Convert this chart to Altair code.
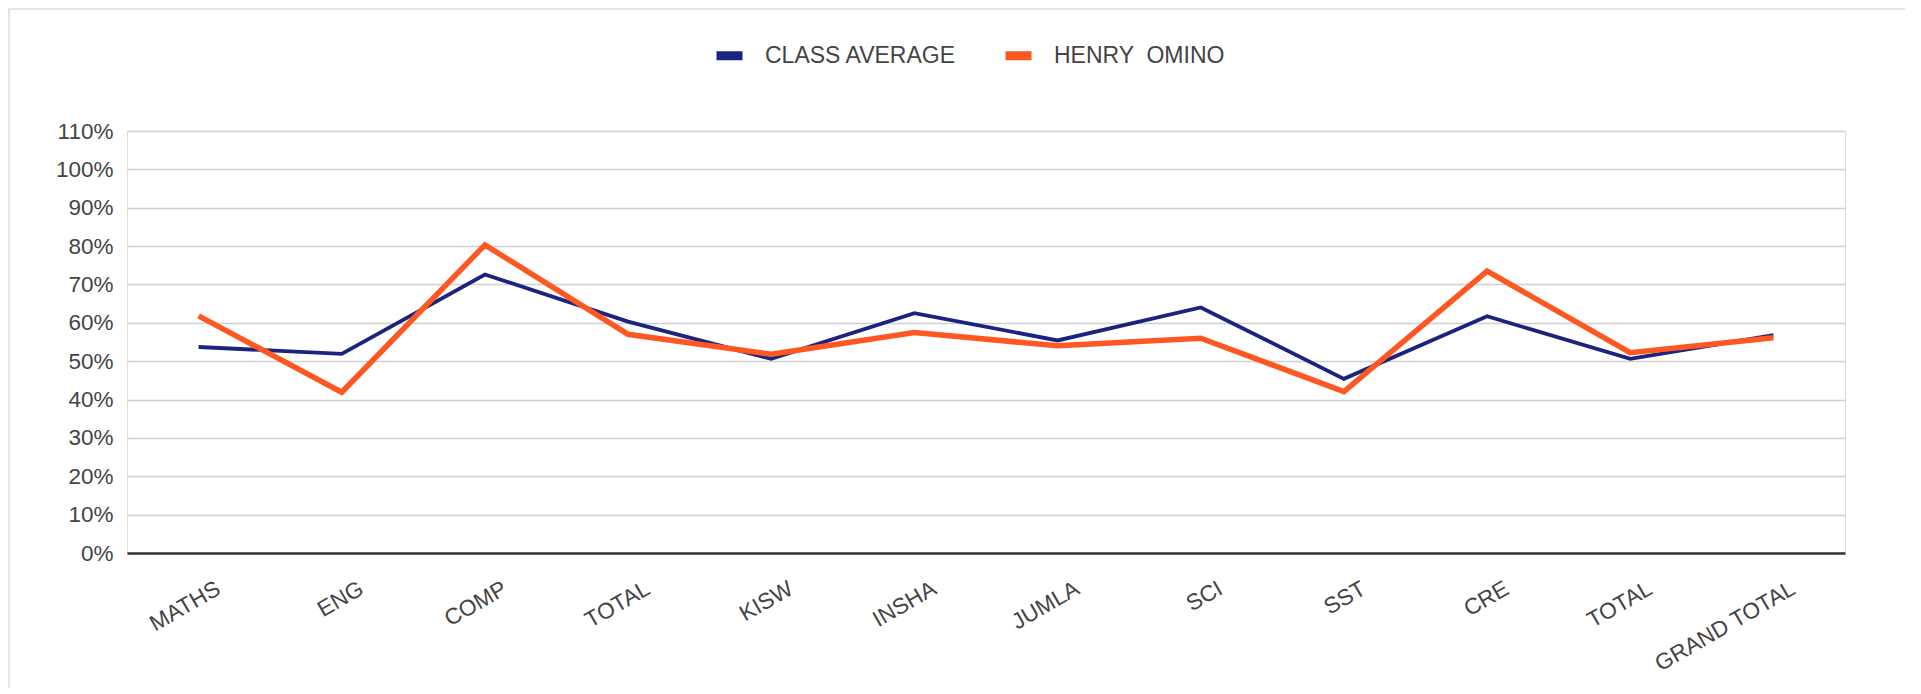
import altair as alt
import pandas as pd

# Category keys (two TOTAL columns -> suffix after "_" is hidden in labels)
subjects = ["MATHS", "ENG", "COMP", "TOTAL_1", "KISW", "INSHA", "JUMLA",
            "SCI", "SST", "CRE", "TOTAL_2", "GRAND TOTAL"]
class_average = [53.7, 51.9, 72.6, 60.3, 50.6, 62.5, 55.4, 64.0, 45.4, 61.7, 50.6, 56.8]
henry_omino = [61.8, 41.9, 80.3, 57.0, 51.8, 57.5, 54.0, 56.0, 42.1, 73.5, 52.2, 56.1]
series_names = ["CLASS AVERAGE", "HENRY \u00a0OMINO"]
series_colors = ["#1a237e", "#ff5722"]
y_ticks = list(range(0, 111, 10))

rows = []
for s, v in zip(subjects, class_average):
    rows.append({"subject": s, "series": series_names[0], "value": v})
for s, v in zip(subjects, henry_omino):
    rows.append({"subject": s, "series": series_names[1], "value": v})
df = pd.DataFrame(rows)

W, H = 1718, 422

x_enc = alt.X("subject:N", sort=subjects, title=None,
              scale=alt.Scale(paddingInner=0, paddingOuter=0.0),
              axis=alt.Axis(labelAngle=-30, labelAlign="right", labelBaseline="top",
                            labelPadding=24, labelOffset=14, ticks=False,
                            labelExpr="split(datum.value, '_')[0]",
                            labelFontSize=22.5, labelColor="#444444", labelFont="Liberation Sans",
                            labelLimit=400,
                            domain=True, domainColor="#333333", domainWidth=2.5,
                            grid=False))
y_enc = alt.Y("value:Q", title=None,
              scale=alt.Scale(domain=[0, 110], nice=False),
              axis=alt.Axis(values=y_ticks, labelExpr="datum.value + '%'",
                            labelFontSize=22.5, labelColor="#444444", labelFont="Liberation Sans",
                            labelPadding=14, ticks=False, domain=False,
                            grid=True, gridColor="#d0d0d0", gridWidth=1.6))
color_enc = alt.Color("series:N", sort=series_names,
                      scale=alt.Scale(domain=series_names, range=series_colors),
                      legend=alt.Legend(orient="none", legendX=585, legendY=-93,
                                        direction="horizontal", title=None,
                                        symbolType="stroke", symbolSize=676,
                                        symbolStrokeWidth=9, labelFontSize=23,
                                        labelColor="#444444", labelFont="Liberation Sans",
                                        labelLimit=400,
                                        labelOffset=18, columnPadding=30))

base = alt.Chart(df)
line_blue = base.transform_filter(alt.datum.series == series_names[0]).mark_line(
    strokeWidth=3.8, strokeJoin="miter").encode(x=x_enc, y=y_enc, color=color_enc)
line_orange = base.transform_filter(alt.datum.series == series_names[1]).mark_line(
    strokeWidth=5.5, strokeJoin="miter").encode(x=x_enc, y=y_enc, color=color_enc)

frame = alt.Chart(pd.DataFrame({"a": [0]})).mark_rect(
    fill=None, stroke="#dcdcdc", strokeWidth=1.5).encode(
    x=alt.value(-118), x2=alt.value(1785), y=alt.value(-122), y2=alt.value(560))

chart = alt.layer(frame, line_blue, line_orange).properties(
    width=W, height=H,
    autosize=alt.AutoSizeParams(type="none"),
    padding={"left": 119, "top": 123, "right": 60, "bottom": 135},
).configure_view(stroke=None).configure(font="Liberation Sans")

chart.save("out.html", embed_options={"renderer": "svg", "actions": False})
